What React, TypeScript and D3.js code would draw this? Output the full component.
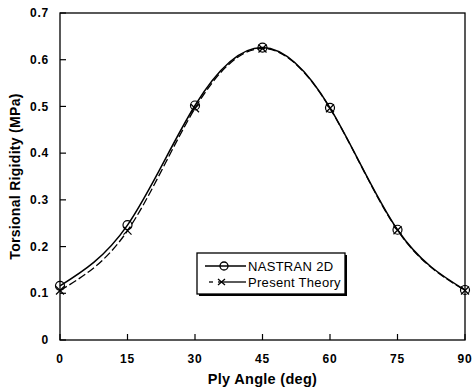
import React from 'react';
import * as d3 from 'd3';

const angles = [0, 15, 30, 45, 60, 75, 90];
const nastran = [0.116, 0.246, 0.502, 0.626, 0.497, 0.236, 0.107];
const present = [0.106, 0.234, 0.496, 0.624, 0.496, 0.235, 0.106];
const yTicks = [0, 0.1, 0.2, 0.3, 0.4, 0.5, 0.6, 0.7];
const xTicks = [0, 15, 30, 45, 60, 75, 90];

const W = 472;
const H = 390;
const m = { left: 60, right: 7, top: 13, bottom: 50 };

export default function App() {
  const x = d3.scaleLinear().domain([0, 90]).range([m.left, W - m.right]);
  const y = d3.scaleLinear().domain([0, 0.7]).range([H - m.bottom, m.top]);

  const line = d3
    .line<[number, number]>()
    .x(d => x(d[0]))
    .y(d => y(d[1]))
    .curve(d3.curveNatural);

  const solid = line(angles.map((a, i) => [a, nastran[i]]));
  const dashed = line(angles.map((a, i) => [a, present[i]]));
  const font = '"Liberation Sans", Arial, sans-serif';

  // legend box
  const lx = 197, ly = 253, lw = 148, lh = 41;

  return (
    <svg width={W} height={H} style={{ position: 'absolute', left: 0, top: 0, background: '#fff' }}>
      <g fill="none" stroke="#000">
        <rect x={m.left} y={m.top} width={W - m.right - m.left} height={H - m.bottom - m.top} strokeWidth={1.3} />
        {yTicks.map(t => (
          <line key={t} x1={m.left} x2={m.left + 6} y1={y(t)} y2={y(t)} strokeWidth={1.2} />
        ))}
        {xTicks.map(t => (
          <line key={t} x1={x(t)} x2={x(t)} y1={y(0)} y2={y(0) - 6} strokeWidth={1.2} />
        ))}
        <path d={dashed ?? ''} strokeWidth={1.3} strokeDasharray="8 3" />
        <path d={solid ?? ''} strokeWidth={1.5} />
        {angles.map((a, i) => (
          <circle key={'c' + a} cx={x(a)} cy={y(nastran[i])} r={4.5} strokeWidth={1.2} />
        ))}
        {angles.map((a, i) => (
          <path
            key={'x' + a}
            d={`M${x(a) - 4},${y(present[i]) - 4}L${x(a) + 4},${y(present[i]) + 4}M${x(a) - 4},${y(present[i]) + 4}L${x(a) + 4},${y(present[i]) - 4}`}
            strokeWidth={1.2}
          />
        ))}
      </g>

      <g fontFamily={font} fontWeight="bold" fontSize={12} fill="#000">
        {yTicks.map(t => (
          <text key={t} x={m.left - 11} y={y(t)} dy="0.35em" textAnchor="end" letterSpacing={0.8}>
            {t === 0 ? '0' : t.toFixed(1)}
          </text>
        ))}
        {xTicks.map(t => (
          <text key={t} x={x(t)} y={y(0) + 19} dy="0.35em" textAnchor="middle" letterSpacing={0.8}>
            {t}
          </text>
        ))}
        <text x={x(45)} y={379} dy="0.35em" textAnchor="middle" fontSize={14.5} letterSpacing={0.3}>
          Ply Angle (deg)
        </text>
        <text
          transform={`translate(15,${(y(0) + y(0.7)) / 2}) rotate(-90)`}
          dy="0.35em"
          textAnchor="middle"
          fontSize={14}
          letterSpacing={0.3}
        >
          Torsional Rigidity (MPa)
        </text>
      </g>

      <g>
        <rect x={lx + 2} y={ly + 2} width={lw} height={lh} fill="#000" />
        <rect x={lx} y={ly} width={lw} height={lh} fill="#fff" stroke="#000" strokeWidth={1.3} />
        <g stroke="#000" fill="none" strokeWidth={1.3}>
          <line x1={lx + 8} x2={lx + 49} y1={ly + 13} y2={ly + 13} />
          <circle cx={lx + 27} cy={ly + 13} r={4} fill="none" />
          <line x1={lx + 12} x2={lx + 16} y1={ly + 29} y2={ly + 29} />
          <line x1={lx + 21} x2={lx + 49} y1={ly + 29} y2={ly + 29} />
          <path d={`M${lx + 21},${ly + 26}L${lx + 28},${ly + 32}M${lx + 21},${ly + 32}L${lx + 28},${ly + 26}`} />
        </g>
        <g fontFamily={font} fontSize={13} fill="#000" letterSpacing={0.3}>
          <text x={lx + 51} y={ly + 13} dy="0.35em">NASTRAN 2D</text>
          <text x={lx + 51} y={ly + 29} dy="0.35em">Present Theory</text>
        </g>
      </g>
    </svg>
  );
}
